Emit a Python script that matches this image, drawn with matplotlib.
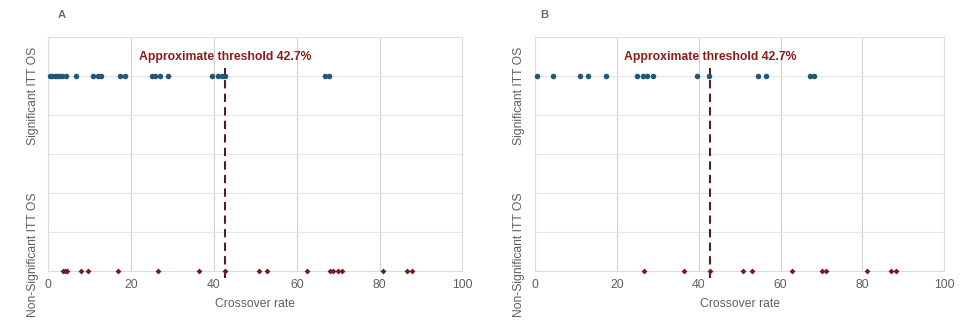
import matplotlib
matplotlib.use("Agg")
import matplotlib.pyplot as plt

plt.rcParams['font.family'] = ['Liberation Sans', 'DejaVu Sans']

threshold = 42.7
panel_titles = ["A", "B"]
ylabels = ["Significant ITT OS", "Non-Significant ITT OS"]
xticks = [0, 20, 40, 60, 80, 100]
xlabel = "Crossover rate"

sig_a = [0.5, 1.0, 1.5, 2.0, 2.6, 3.3, 4.3, 6.7, 10.9, 11.9, 12.8, 17.4, 18.6,
         25.0, 25.8, 27.0, 28.8, 39.5, 41.1, 41.9, 42.6, 66.9, 67.9]
nonsig_a = [3.5, 4.0, 4.4, 7.9, 9.5, 16.9, 26.4, 36.4, 42.7, 50.9, 52.8, 62.6,
            68.0, 68.7, 69.9, 71.0, 80.9, 86.7, 87.9]
sig_b = [0.4, 4.5, 11.0, 13.0, 17.4, 25.0, 26.5, 27.3, 28.9, 39.5, 42.6, 54.4,
         56.5, 67.1, 68.2]
nonsig_b = [26.6, 36.4, 42.8, 50.9, 53.1, 62.7, 70.0, 71.1, 81.0, 86.9, 88.1]

BLUE = "#1f5878"
RED = "#7a1a1a"
TXT_RED = "#8b1c1c"
LINE = "#502020"
GREY = "#5f5f5f"

fig = plt.figure(figsize=(9.79, 3.33), dpi=100)
W, H = 979, 333
boxes = [(48.3, 462.3), (535.0, 944.3)]
top_px, bot_px = 37.3, 270.7
datasets = [(sig_a, nonsig_a), (sig_b, nonsig_b)]

for i, ((l, r), (sig, nonsig), title) in enumerate(zip(boxes, datasets, panel_titles)):
    ax = fig.add_axes([l / W, 1 - bot_px / H, (r - l) / W, (bot_px - top_px) / H])
    ax.set_xlim(0, 100)
    ax.set_ylim(0, 1.2)
    ax.set_xticks(xticks)
    ax.set_yticks([0, 0.2, 0.4, 0.6, 0.8, 1.0, 1.2])
    ax.set_yticklabels([])
    ax.tick_params(axis='both', length=0, labelsize=8.7, labelcolor=GREY, pad=6)
    for s in ax.spines.values():
        s.set_color("#dddddd")
        s.set_linewidth(0.8)
    ax.grid(axis='x', color="#d0d0d0", linewidth=0.8)
    ax.grid(axis='y', color="#e6e6e6", linewidth=0.8)
    ax.set_axisbelow(True)

    ax.plot([threshold, threshold], [-0.04, 1.04], color=LINE, lw=1.5,
            dashes=(4, 2.5), clip_on=False, zorder=2)
    ax.scatter(sig, [1] * len(sig), s=16, color=BLUE, marker='o', zorder=3,
               clip_on=False, linewidths=0)
    ax.scatter(nonsig, [0] * len(nonsig), s=9, color=RED, marker='D', zorder=3,
               clip_on=False, linewidths=0)
    ax.text(threshold, 1.1, "Approximate threshold 42.7%", ha='center', va='center',
            fontsize=8.8, fontweight='bold', color=TXT_RED)
    ax.set_xlabel(xlabel, fontsize=8.7, color=GREY, labelpad=5)
    ax.text(-0.038, 0.748, ylabels[0], rotation=90, ha='center', va='center',
            fontsize=8.7, color=GREY, transform=ax.transAxes)
    ax.text(-0.038, 0.067, ylabels[1], rotation=90, ha='center', va='center',
            fontsize=8.7, color=GREY, transform=ax.transAxes)
    tx = (l + 13) / W if i == 0 else (l + 9) / W
    fig.text(tx, 1 - 15 / H, title, ha='center', va='center', fontsize=8,
             fontweight='bold', color="#6a6a6a")

fig.savefig("out.png", dpi=100)
